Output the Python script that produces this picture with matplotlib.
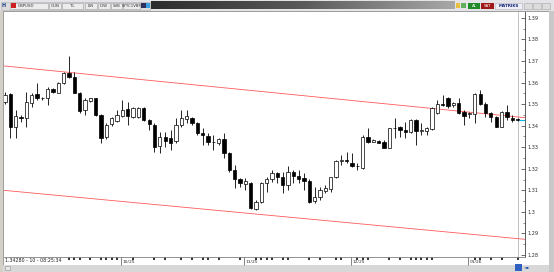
import numpy as np
import matplotlib
matplotlib.use("Agg")
import matplotlib.pyplot as plt
from matplotlib.patches import Rectangle
from matplotlib.colors import LinearSegmentedColormap

# ---------------- data ----------------
opens = [1.3511, 1.3545, 1.3392, 1.3438, 1.3434, 1.3506, 1.3546, 1.3528, 1.3526, 1.3570,
         1.3552, 1.3596, 1.3645, 1.3627, 1.3552, 1.3472, 1.3513, 1.3526, 1.3449, 1.3346,
         1.3407, 1.3423, 1.3444, 1.3475, 1.3438, 1.3441, 1.3483, 1.3426, 1.3403, 1.3307,
         1.3346, 1.3341, 1.3330, 1.3403, 1.3429, 1.3434, 1.3411, 1.3367, 1.3353, 1.3322,
         1.3321, 1.3336, 1.3271, 1.3194, 1.3151, 1.3129, 1.3135, 1.3012, 1.3047, 1.3135,
         1.3151, 1.3179, 1.3163, 1.3125, 1.3186, 1.3166, 1.3156, 1.3144, 1.3052, 1.3068,
         1.3098, 1.3105, 1.3160, 1.3237, 1.3240, 1.3225, 1.3213, 1.3202, 1.3346, 1.3325,
         1.3330, 1.3325, 1.3297, 1.3387, 1.3392, 1.3380, 1.3372, 1.3426, 1.3375, 1.3376,
         1.3383, 1.3457, 1.3500, 1.3526, 1.3495, 1.3503, 1.3464, 1.3454, 1.3454, 1.3546,
         1.3500, 1.3460, 1.3438, 1.3395, 1.3462, 1.3434, 1.3430]
highs = [1.3555, 1.3552, 1.3472, 1.3449, 1.3557, 1.3550, 1.3596, 1.3534, 1.3577, 1.3573,
         1.3603, 1.3650, 1.3724, 1.3650, 1.3557, 1.3526, 1.3530, 1.3530, 1.3452, 1.3411,
         1.3440, 1.3472, 1.3519, 1.3511, 1.3485, 1.3485, 1.3485, 1.3430, 1.3411, 1.3372,
         1.3372, 1.3380, 1.3434, 1.3472, 1.3472, 1.3441, 1.3418, 1.3387, 1.3364, 1.3356,
         1.3341, 1.3364, 1.3279, 1.3217, 1.3156, 1.3156, 1.3140, 1.3055, 1.3140, 1.3163,
         1.3194, 1.3186, 1.3186, 1.3213, 1.3194, 1.3194, 1.3179, 1.3151, 1.3117, 1.3117,
         1.3125, 1.3163, 1.3240, 1.3264, 1.3279, 1.3271, 1.3225, 1.3356, 1.3387, 1.3336,
         1.3333, 1.3333, 1.3390, 1.3434, 1.3398, 1.3418, 1.3429, 1.3429, 1.3411, 1.3395,
         1.3488, 1.3519, 1.3542, 1.3534, 1.3511, 1.3526, 1.3472, 1.3464, 1.3550, 1.3565,
         1.3511, 1.3464, 1.3444, 1.3469, 1.3495, 1.3449, 1.3434]
lows = [1.3500, 1.3341, 1.3341, 1.3418, 1.3392, 1.3488, 1.3519, 1.3519, 1.3495, 1.3552,
        1.3550, 1.3594, 1.3619, 1.3550, 1.3460, 1.3449, 1.3508, 1.3444, 1.3321, 1.3336,
        1.3400, 1.3418, 1.3441, 1.3403, 1.3434, 1.3436, 1.3421, 1.3380, 1.3279, 1.3271,
        1.3302, 1.3287, 1.3320, 1.3395, 1.3411, 1.3403, 1.3356, 1.3310, 1.3310, 1.3287,
        1.3310, 1.3248, 1.3186, 1.3109, 1.3117, 1.3101, 1.3012, 1.3009, 1.3040, 1.3093,
        1.3140, 1.3132, 1.3086, 1.3101, 1.3132, 1.3132, 1.3101, 1.3042, 1.3040, 1.3055,
        1.3086, 1.3093, 1.3156, 1.3217, 1.3225, 1.3209, 1.3194, 1.3197, 1.3318, 1.3322,
        1.3318, 1.3295, 1.3295, 1.3341, 1.3348, 1.3341, 1.3364, 1.3310, 1.3356, 1.3356,
        1.3380, 1.3454, 1.3491, 1.3480, 1.3485, 1.3454, 1.3403, 1.3434, 1.3413, 1.3495,
        1.3441, 1.3418, 1.3392, 1.3392, 1.3426, 1.3418, 1.3423]
closes = [1.3542, 1.3392, 1.3444, 1.3434, 1.3511, 1.3542, 1.3526, 1.3526, 1.3570, 1.3557,
          1.3596, 1.3645, 1.3627, 1.3552, 1.3469, 1.3519, 1.3526, 1.3449, 1.3341, 1.3403,
          1.3434, 1.3449, 1.3472, 1.3444, 1.3480, 1.3480, 1.3426, 1.3407, 1.3302, 1.3348,
          1.3330, 1.3321, 1.3403, 1.3434, 1.3444, 1.3411, 1.3364, 1.3355, 1.3322, 1.3325,
          1.3336, 1.3271, 1.3194, 1.3151, 1.3132, 1.3144, 1.3017, 1.3047, 1.3135, 1.3151,
          1.3182, 1.3160, 1.3125, 1.3186, 1.3166, 1.3151, 1.3144, 1.3047, 1.3068, 1.3101,
          1.3109, 1.3160, 1.3237, 1.3240, 1.3237, 1.3213, 1.3215, 1.3348, 1.3325, 1.3333,
          1.3321, 1.3297, 1.3387, 1.3390, 1.3380, 1.3372, 1.3426, 1.3375, 1.3380, 1.3390,
          1.3480, 1.3500, 1.3494, 1.3491, 1.3506, 1.3457, 1.3446, 1.3457, 1.3546, 1.3500,
          1.3457, 1.3438, 1.3395, 1.3464, 1.3438, 1.3426, 1.3428]

y_ticks = [1.28, 1.29, 1.30, 1.31, 1.32, 1.33, 1.34, 1.35, 1.36, 1.37, 1.38, 1.39]
month_labels = ["10/25", "11/25", "12/25", "01/26"]
month_idx = [22, 45, 65, 87]
minor_x_idx = [12, 13, 14, 16, 18, 19, 20, 21, 24, 28, 30, 33, 35, 37, 38, 40, 44, 47, 48,
               49, 50, 52, 53, 57, 59, 62, 63, 66, 67, 68, 72, 74, 76, 77, 78, 79, 80, 88,
               89, 91, 93, 96]
channel_x = [-0.2, 97.4]
channel_upper = [1.3677, 1.3437]
channel_lower = [1.3100, 1.2873]
last_price = 1.34280
info_text = "1.34280 - 10 - 08:25:34"
symbol = "GBPUSD"
toolbar_labels = ["GUN", "TL", "LIN", "IDW", "SVB", "SYYC1VBF"]

# ---------------- figure ----------------
W, H = 554, 272
fig = plt.figure(figsize=(W / 100, H / 100), dpi=100)
fig.patch.set_facecolor("#d4d0c8")

bg = fig.add_axes([0, 0, 1, 1], zorder=0)
bg.set_xlim(0, W)
bg.set_ylim(H, 0)
bg.axis("off")

def rect(x0, y0, x1, y1, fc, ec="none", lw=0.5, z=1):
    bg.add_patch(Rectangle((x0, y0), x1 - x0, y1 - y0, facecolor=fc, edgecolor=ec, lw=lw, zorder=z))

# chart panel
rect(3, 11, 549, 265, "white", "#909090", 0.6)
rect(549, 11, 554, 272, "#c8c8c8")

# toolbar
rect(0, 0, W, 11, "#e4e3e8")
rect(1, 1.5, 150, 9.5, "#dcdcdc", "#b0b0b0", 0.4)
bg.text(4, 5.5, "H", fontsize=3.5, color="#1a3a8a", fontweight="bold", ha="center", va="center", zorder=3)
rect(10, 2.5, 48, 8.5, "#ececec", "#a0a0a0", 0.4, z=2)
rect(11, 3.2, 16, 7.8, "#cc2020", z=3)
bg.text(17.5, 5.6, symbol, fontsize=2.8, color="#333333", ha="left", va="center", zorder=3)
boxes = [(49, 61), (62, 83), (85, 97), (98, 110), (111, 122), (123, 140)]
for (x0, x1), lab in zip(boxes, toolbar_labels):
    rect(x0, 2.5, x1, 8.5, "#ececec", "#a0a0a0", 0.4, z=2)
    bg.text((x0 + x1) / 2, 5.6, lab, fontsize=2.8, color="#333333", ha="center", va="center", zorder=3)
rect(141, 3, 145.5, 8, "#303060", z=2)
rect(146, 3, 150, 8, "#3aa0e0", z=2)

grad = np.linspace(0, 1, 256).reshape(1, -1)
cmap = LinearSegmentedColormap.from_list("g", ["#2c2c2c", "#5a5a5a", "#a8a8a8"])
bg.imshow(grad, cmap=cmap, extent=(151, 455, 9.5, 1.5), aspect="auto", zorder=2)

rect(456, 3, 460, 8, "#e8c040", z=2)
rect(461, 3, 466, 8, "#60b060", z=2)
rect(468, 2.5, 480, 8.5, "#1f8a2a", z=2)
bg.text(474, 5.6, "AL", fontsize=2.8, color="white", ha="center", va="center", zorder=3)
rect(481, 2.5, 494, 8.5, "#a01818", z=2)
bg.text(487.5, 5.6, "SAT", fontsize=2.8, color="white", ha="center", va="center", zorder=3)
rect(495, 2.5, 522, 8.5, "#eef0f6", "#b0b0c0", 0.4, z=2)
bg.text(508.5, 5.6, "MATRIKS", fontsize=3.0, color="#1a2a7a", fontweight="bold", ha="center", va="center", zorder=3)
for x0 in (524, 533, 542):
    rect(x0, 3, x0 + 8, 8.5, "#dcdcdc", "#a8a8a8", 0.4, z=2)

# bottom strip
rect(3, 265, 549, 272, "#d8d8d8")
bg.text(5, 260.3, info_text, fontsize=3.4, color="#202020", ha="left", va="center", zorder=3)
rect(5, 266, 10, 270, "#e8e8e8", "#909090", 0.4, z=3)
rect(515, 264, 522, 271, "#3060c0", z=3)
bg.text(527, 267.5, "\u25c4\u25ba", fontsize=3.2, color="#2050b0", ha="center", va="center", zorder=3)

# ---------------- chart axes ----------------
ax = fig.add_axes([4 / W, 15 / H, 521 / W, 245 / H], zorder=2)
ax.set_facecolor("none")
n = len(opens)
idx = np.arange(n)
o = np.array(opens); c = np.array(closes)
hi = np.array(highs); lo = np.array(lows)

ax.vlines(idx, lo, hi, color="black", lw=0.6, zorder=2)
bottoms = np.minimum(o, c)
heights = np.maximum(np.abs(c - o), 0.00008)
colors = ["white" if cc >= oo else "black" for oo, cc in zip(o, c)]
ax.bar(idx, heights, bottom=bottoms, width=0.62, color=colors, edgecolor="black",
       linewidth=0.5, zorder=3)

ax.plot(channel_x, channel_upper, color="#ff5a5a", lw=0.6, zorder=1)
ax.plot(channel_x, channel_lower, color="#ff5a5a", lw=0.6, zorder=1)
ax.axvline(n - 1, color="#a8a8a8", lw=0.5, zorder=0)
ax.hlines(last_price, n - 0.7, 97.4, color="#00b8e8", lw=0.8, zorder=4)

ax.set_xlim(-0.19, 97.4)
ax.set_ylim(1.2791, 1.3927)

for s in ("left", "top"):
    ax.spines[s].set_visible(False)
ax.spines["right"].set_color("#404040")
ax.spines["right"].set_linewidth(0.6)
ax.spines["bottom"].set_color("#808080")
ax.spines["bottom"].set_linewidth(0.6)

ax.yaxis.tick_right()
ax.set_yticks(y_ticks)
ax.set_yticklabels([f"{round(v, 2):g}" for v in y_ticks])
ax.set_yticks(np.arange(1.285, 1.39, 0.01), minor=True)
ax.tick_params(axis="y", which="major", direction="in", length=3, width=0.5,
               pad=1.5, labelsize=3.6, colors="#303030")
ax.tick_params(axis="y", which="minor", direction="in", length=1.5, width=0.4, colors="#303030")

ax.set_xticks([m - 0.25 for m in month_idx])
ax.set_xticklabels([])
ax.set_xticks(minor_x_idx, minor=True)
ax.tick_params(axis="x", which="major", direction="out", length=6, width=0.5, colors="#505050")
ax.tick_params(axis="x", which="minor", direction="out", length=2, width=1.2, colors="#101010")
for m, lab in zip(month_idx, month_labels):
    ax.annotate(lab, xy=(m - 0.25, 0), xycoords=("data", "axes fraction"),
                xytext=(1.2, -3.6), textcoords="offset points", fontsize=3.2,
                color="#303030", ha="left", va="center")

fig.savefig("out.png", dpi=100, facecolor=fig.get_facecolor())
